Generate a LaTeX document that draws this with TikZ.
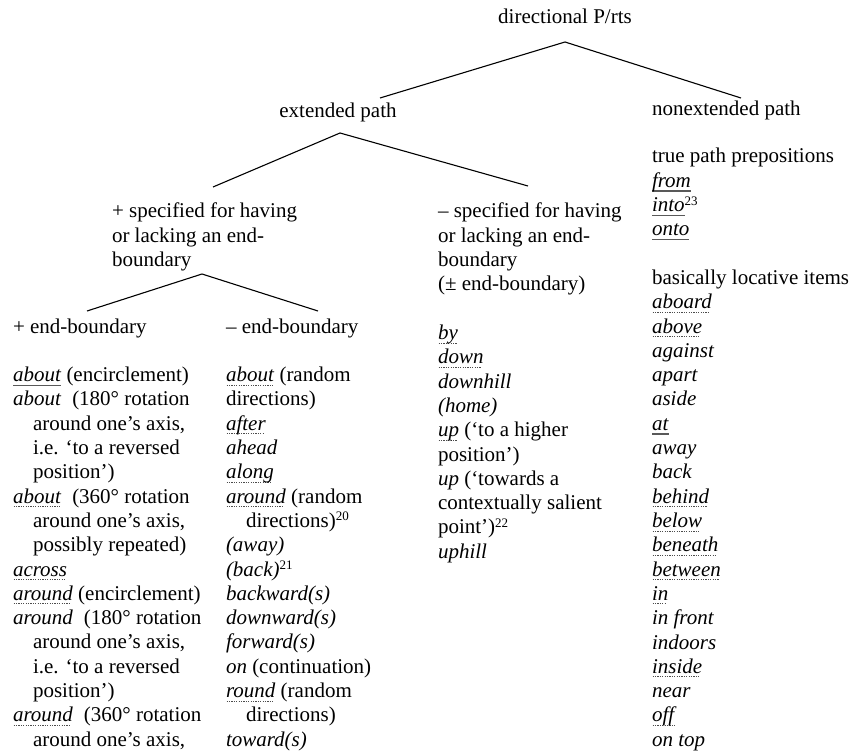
\documentclass[tikz,border=0pt]{standalone}
\usepackage{fontspec}
\setmainfont{Liberation Serif}
\newcommand\dotul[1]{\leavevmode\setbox0=\hbox{#1}\rlap{\color{black!70}\hbox to \wd0{\leaders\hbox to 2.4pt{\hss\vrule width 1.3pt height -3pt depth 3.9pt\hss}\hfill}}\box0\relax}
\newcommand\solul[1]{\leavevmode\setbox0=\hbox{#1}\rlap{\color{black!65}\vrule width\wd0 height -3pt depth 4.3pt}\box0\relax}
\newcommand\sups[1]{\raisebox{6.5pt}[0pt][0pt]{\fontsize{13}{13}\selectfont #1}}
\newcommand\blocktext[1]{\begin{tabular}[t]{@{}l@{}}#1\end{tabular}}
\newcommand\ind{\hspace*{20pt}}
\begin{document}
\begin{tikzpicture}[x=1pt,y=-1pt,
  every node/.style={inner sep=0pt,outer sep=0pt,font=\fontsize{21}{24.3}\selectfont},
  lbl/.style={anchor=base},
  lblw/.style={anchor=base west},
  branch/.style={line width=1.1pt,black}]
\useasboundingbox (0,0) rectangle (850,751);

% tree labels
\node[lbl]  (root)   at (565,24)  {directional P/rts};
\node[lbl]  (ext)    at (338,118) {extended path};
\node[lblw] (nonext) at (652,116) {nonextended path};
\node[lblw] (spec)   at (112,218) {\blocktext{+ specified for having\\or lacking an end-\\boundary}};
\node[lblw] (unspec) at (438,218) {\blocktext{– specified for having\\or lacking an end-\\boundary\\(± end-boundary)\\ \\
\dotul{\textit{by}}\\
\dotul{\textit{down}}\\
\textit{downhill}\\
\textit{(home)}\\
\dotul{\textit{up}} (‘to a higher\\
position’)\\
\textit{up} (‘towards a\\
contextually salient\\
point’)\sups{22}\\
\textit{uphill}}};
\node[lblw] (plus)  at (13,333) {\blocktext{+ end-boundary\\ \\
\solul{\textit{about}} (encirclement)\\
\textit{about}\hspace{11pt}(180° rotation\\
\ind around one’s axis,\\
\ind i.e. ‘to a reversed\\
\ind position’)\\
\dotul{\textit{about}}\hspace{11pt}(360° rotation\\
\ind around one’s axis,\\
\ind possibly repeated)\\
\dotul{\textit{across}}\\
\dotul{\textit{around}} (encirclement)\\
\textit{around}\hspace{11pt}(180° rotation\\
\ind around one’s axis,\\
\ind i.e. ‘to a reversed\\
\ind position’)\\
\dotul{\textit{around}}\hspace{11pt}(360° rotation\\
\ind around one’s axis,}};
\node[lblw] (minus) at (226,333) {\blocktext{– end-boundary\\ \\
\dotul{\textit{about}} (random\\
directions)\\
\dotul{\textit{after}}\\
\textit{ahead}\\
\dotul{\textit{along}}\\
\dotul{\textit{around}} (random\\
\ind directions)\sups{20}\\
\textit{(away)}\\
\textit{(back)}\sups{21}\\
\textit{backward(s)}\\
\textit{downward(s)}\\
\textit{forward(s)}\\
\textit{on} (continuation)\\
\dotul{\textit{round}} (random\\
\ind directions)\\
\textit{toward(s)}}};
\node[lblw] (items) at (652,163) {\blocktext{true path prepositions\\
\solul{\textit{from}}\\
\solul{\textit{into}}\sups{23}\\
\solul{\textit{onto}}\\ \\
basically locative items\\
\dotul{\textit{aboard}}\\
\dotul{\textit{above}}\\
\textit{against}\\
\textit{apart}\\
\textit{aside}\\
\solul{\textit{at}}\\
\textit{away}\\
\textit{back}\\
\dotul{\textit{behind}}\\
\dotul{\textit{below}}\\
\dotul{\textit{beneath}}\\
\dotul{\textit{between}}\\
\dotul{\textit{in}}\\
\textit{in front}\\
\textit{indoors}\\
\dotul{\textit{inside}}\\
\textit{near}\\
\dotul{\textit{off}}\\
\textit{on top}}};

% branch points
\coordinate (rootfork)  at ([yshift=-18pt]root.base);
\coordinate (extin)     at ([xshift=42pt,yshift=20pt]ext.base);
\coordinate (nonextin)  at ([xshift=89pt,yshift=18pt]nonext.base west);
\coordinate (extfork)   at ([xshift=2pt,yshift=-15pt]ext.base);
\coordinate (specin)    at ([xshift=101pt,yshift=31pt]spec.base west);
\coordinate (unspecin)  at ([xshift=90pt,yshift=32pt]unspec.base west);
\coordinate (specfork)  at ([xshift=90pt,yshift=-56pt]spec.base west);
\coordinate (plusin)    at ([xshift=74pt,yshift=22pt]plus.base west);
\coordinate (minusin)   at ([xshift=92pt,yshift=22pt]minus.base west);

\draw[branch] (extin) -- (rootfork) -- (nonextin);
\draw[branch] (specin) -- (extfork) -- (unspecin);
\draw[branch] (plusin) -- (specfork) -- (minusin);
\end{tikzpicture}
\end{document}
